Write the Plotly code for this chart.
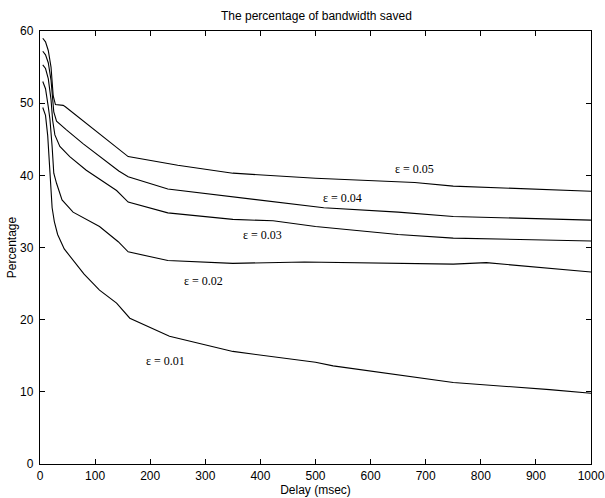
import plotly.graph_objects as go

# ---- data ----
x_e05 = [5, 10, 15, 20, 24, 28, 42, 46, 160, 250, 350, 500, 680, 750, 1000]
y_e05 = [59.0, 58.5, 57.3, 55.0, 51.0, 49.8, 49.7, 49.5, 42.6, 41.4, 40.3, 39.6, 39.0, 38.5, 37.8]

x_e04 = [5, 10, 15, 20, 25, 30, 48, 78, 143, 160, 232, 350, 515, 650, 750, 1000]
y_e04 = [57.2, 56.7, 55.6, 53.2, 48.8, 47.5, 46.3, 44.4, 40.6, 39.8, 38.1, 37.0, 35.5, 34.9, 34.3, 33.8]

x_e03 = [5, 10, 15, 20, 23, 27, 36, 54, 84, 139, 160, 232, 350, 423, 500, 650, 750, 1000]
y_e03 = [55.3, 54.8, 53.4, 50.5, 47.6, 45.6, 44.0, 42.6, 40.7, 37.9, 36.3, 34.8, 33.9, 33.7, 32.9, 31.8, 31.3, 30.9]

x_e02 = [5, 10, 15, 18, 22, 25, 30, 40, 60, 108, 142, 160, 232, 350, 480, 650, 750, 810, 1000]
y_e02 = [53.0, 52.0, 49.5, 47.8, 44.0, 40.3, 38.9, 36.6, 34.9, 32.9, 30.8, 29.4, 28.2, 27.8, 28.0, 27.8, 27.7, 27.9, 26.6]

x_e01 = [5, 10, 14, 18, 22, 26, 32, 44, 60, 80, 108, 139, 163, 199, 235, 350, 500, 532, 650, 750, 925, 1000]
y_e01 = [49.4, 48.3, 45.5, 40.0, 35.5, 33.6, 31.8, 29.8, 28.3, 26.3, 24.1, 22.3, 20.2, 19.0, 17.7, 15.6, 14.1, 13.6, 12.4, 11.3, 10.3, 9.8]

labels = ["ε = 0.05", "ε = 0.04", "ε = 0.03", "ε = 0.02", "ε = 0.01"]
label_x = [680, 549, 404, 297, 228]
label_y = [40.9, 36.9, 31.7, 25.3, 14.3]

x_ticks = list(range(0, 1001, 100))
y_ticks = list(range(0, 61, 10))

title_text = "The percentage of bandwidth saved"
x_title = "Delay (msec)"
y_title = "Percentage"

# ---- figure ----
fig = go.Figure()
for xs, ys, name in [(x_e05, y_e05, labels[0]), (x_e04, y_e04, labels[1]),
                     (x_e03, y_e03, labels[2]), (x_e02, y_e02, labels[3]),
                     (x_e01, y_e01, labels[4])]:
    fig.add_trace(go.Scatter(x=xs, y=ys, mode="lines", name=name,
                             line=dict(color="black", width=1.1),
                             showlegend=False, hoverinfo="skip"))

for t, lx, ly in zip(labels, label_x, label_y):
    fig.add_annotation(x=lx, y=ly, text=t, showarrow=False,
                       font=dict(family="Liberation Serif, Times New Roman, serif",
                                 size=12, color="black"))

axis_font = dict(family="Liberation Sans, Arial, Helvetica, sans-serif", size=12, color="black")

fig.update_layout(
    width=605, height=498,
    margin=dict(l=40, r=14, t=31, b=34),
    paper_bgcolor="white", plot_bgcolor="white",
    font=axis_font,
    title=dict(text=title_text, x=0.523, xanchor="center", y=0.968, yanchor="middle",
               font=dict(family="Liberation Sans, Arial, sans-serif", size=12, color="black")),
    xaxis=dict(range=[0, 1000], tickvals=x_ticks, ticks="inside", ticklen=5,
               tickcolor="black", showline=True, linecolor="black", linewidth=1.2,
               mirror="ticks", showgrid=False, zeroline=False, automargin=False,
               title=dict(text=x_title, standoff=0, font=axis_font),
               tickfont=axis_font),
    yaxis=dict(range=[0, 60], tickvals=y_ticks, ticks="inside", ticklen=5,
               tickcolor="black", showline=True, linecolor="black", linewidth=1.2,
               mirror="ticks", showgrid=False, zeroline=False, automargin=False,
               ticklabelstandoff=3,
               title=dict(text=y_title, standoff=0, font=axis_font),
               tickfont=axis_font),
)

# remove the default 8px page margin so the 605x498 figure fills the window exactly
page_fix = "document.body.style.margin='0';document.body.style.overflow='hidden';"
fig.write_html("out.html", post_script=page_fix,
               config={"displayModeBar": False, "staticPlot": True})
